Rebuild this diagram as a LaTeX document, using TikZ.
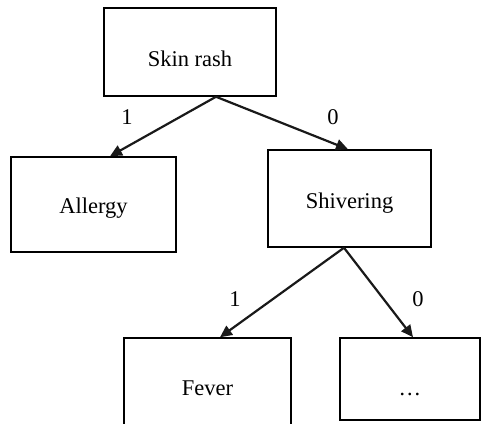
\documentclass[tikz,border=0pt]{standalone}
\usepackage{fontspec}
\setmainfont{Liberation Serif}
\usetikzlibrary{arrows.meta}
\begin{document}
\begin{tikzpicture}[x=0.5pt,y=-0.5pt,
  box/.style={draw=black,line width=0.75pt,fill=white,inner sep=0pt,
    font=\fontsize{11.25}{13}\selectfont},
  drop/.style={text height=#1,text depth=0pt},
  link/.style={line width=1.1pt,draw=black!90,
    -{Triangle[length=6pt,width=5.5pt]}},
  bit/.style={inner sep=0pt,font=\fontsize{11.25}{13}\selectfont}]
  \clip (0,0) rectangle (484,424);
  \useasboundingbox (0,0) rectangle (484,424);
  % decision nodes and leaves
  \node[box,drop=14.7pt,minimum width=86pt,minimum height=44pt] (skin) at (190,52) {Skin rash};
  \node[box,drop=9pt,minimum width=82.5pt,minimum height=47.5pt] (allergy) at (93.5,204.5) {Allergy};
  \node[box,drop=10.3pt,minimum width=81.5pt,minimum height=48.5pt] (shiv) at (349.5,198.5) {Shivering};
  \node[box,minimum width=83.5pt,minimum height=50pt] (fever) at (207.5,388) {Fever};
  \node[box,drop=16pt,minimum width=70pt,minimum height=41pt] (dots) at (410,379) {\dots};
  % branches
  \draw[link] ([xshift=13pt]skin.south) -- ([xshift=8.25pt]allergy.north);
  \draw[link] ([xshift=13pt]skin.south) -- ([xshift=-0.75pt]shiv.north);
  \draw[link] ([xshift=-2.75pt]shiv.south) -- ([xshift=6.25pt]fever.north);
  \draw[link] ([xshift=-2.75pt]shiv.south) -- ([xshift=1.5pt]dots.north);
  % branch values
  \node[bit] (b1) at (127,117) {1};
  \node[bit] (b2) at (333,117) {0};
  \node[bit] (b3) at (235,299) {1};
  \node[bit] (b4) at (418,299) {0};
\end{tikzpicture}
\end{document}
